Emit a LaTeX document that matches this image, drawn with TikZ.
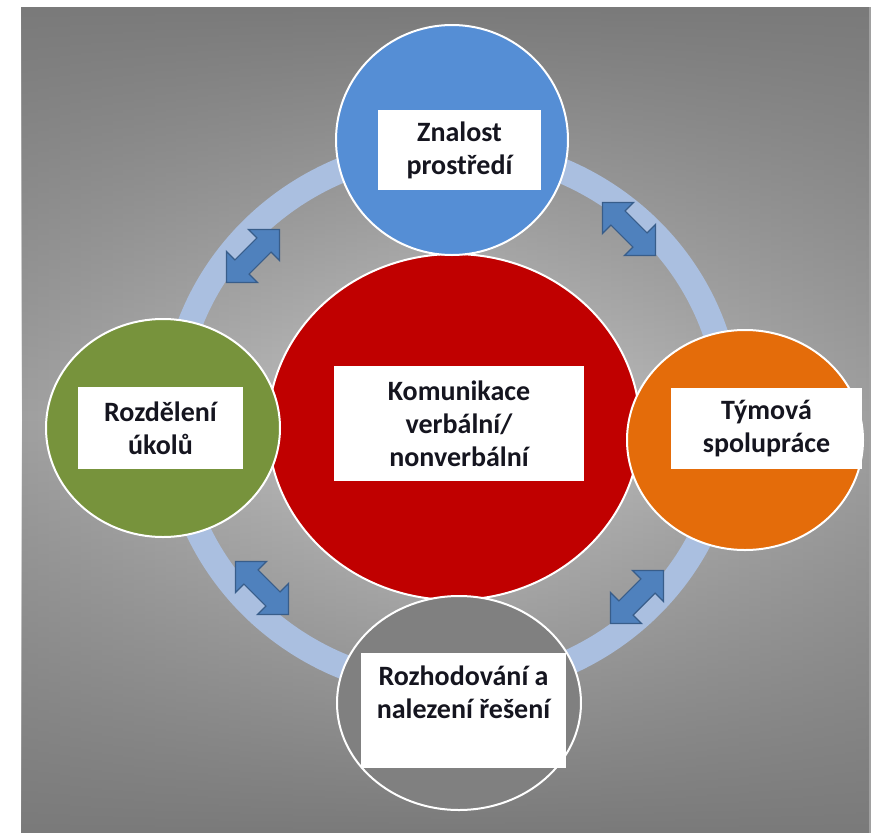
\documentclass[tikz,border=0pt]{standalone}
\usepackage{fontspec}
\setmainfont{Carlito}
\usetikzlibrary{shapes.geometric,fadings}
\definecolor{bgdark}{HTML}{7A7A7A}
\definecolor{bgside}{HTML}{A0A0A0}
\definecolor{bglight}{HTML}{C8C8C8}
\definecolor{ringblue}{HTML}{AABFE0}
\definecolor{arrowfill}{HTML}{4F81BD}
\definecolor{arrowline}{HTML}{385D8A}
\definecolor{cblue}{HTML}{558ED5}
\definecolor{cred}{HTML}{C00000}
\definecolor{cgreen}{HTML}{77933C}
\definecolor{corange}{HTML}{E46C0A}
\definecolor{cgray}{HTML}{808080}
\definecolor{txt}{HTML}{15151F}
\tikzfading[name=fadetop, top color=transparent!0, bottom color=transparent!100]
\tikzfading[name=fadebottom, top color=transparent!100, bottom color=transparent!0]
\begin{document}
\begin{tikzpicture}[x=1pt,y=-1pt,
  bubble/.style={ellipse, draw=white, line width=2pt, inner sep=0pt},
  txtbox/.style={rectangle, fill=white, inner sep=0pt, align=center,
     font=\fontsize{28}{33}\selectfont\bfseries, text=txt},
  darr/.pic={\filldraw[fill=arrowfill, draw=arrowline, line width=1.2pt, line join=miter]
     (37.5,0) -- (15.5,22) -- (15.5,10) -- (-15.5,10) -- (-15.5,22) -- (-37.5,0)
     -- (-15.5,-22) -- (-15.5,-10) -- (15.5,-10) -- (15.5,-22) -- cycle;}]
\useasboundingbox (0,0) rectangle (871,833);
\fill[white] (0,0) rectangle (871,833);
% background
\shade[left color=bgside, right color=bgside, middle color=bglight] (22,7) rectangle (871,833);
\fill[bgdark, path fading=fadetop] (22,7) rectangle (871,420);
\fill[bgdark, path fading=fadebottom] (22,420) rectangle (871,833);
% ring
\draw[ringblue, line width=25pt] (451,418) ellipse [x radius=278.5pt, y radius=269.5pt];
% circles
\node[bubble, fill=cred, minimum width=372pt, minimum height=346pt] (komunikace) at (454,427) {};
\node[bubble, fill=cblue, minimum width=232pt, minimum height=230pt] (znalost) at (452,140) {};
\node[bubble, fill=cgreen, minimum width=234pt, minimum height=218pt] (rozdeleni) at (163,428) {};
\node[bubble, fill=corange, minimum width=236pt, minimum height=220pt] (tymova) at (745,440) {};
\node[bubble, fill=cgray, minimum width=244pt, minimum height=214pt] (rozhodovani) at (459,703) {};
% text boxes
\node[txtbox, minimum width=163pt, minimum height=80pt] (tznalost) at (459.5,150) {Znalost\\prostředí};
\node[txtbox, minimum width=165pt, minimum height=82pt] (trozdeleni) at (160.5,428) {Rozdělení\\úkolů};
\node[txtbox, minimum width=250pt, minimum height=115pt] (tkomunikace) at (459,423.5) {Komunikace\\verbální/\\nonverbální};
\node[txtbox, minimum width=191pt, minimum height=81pt] (ttymova) at (766.5,428.5) {Týmová\\spolupráce};
\node[txtbox] (trozhodovani) at (463.5,710.5)
  {\parbox[t][115pt][t]{205pt}{\centering\rule{0pt}{32pt}Rozhodování a\\nalezení řešení}};
% arrows
\path (253,256) pic[rotate=45] {darr};
\path (629,229) pic[rotate=-45] {darr};
\path (262,588) pic[rotate=-45] {darr};
\path (637,597) pic[rotate=45] {darr};
\end{tikzpicture}
\end{document}
